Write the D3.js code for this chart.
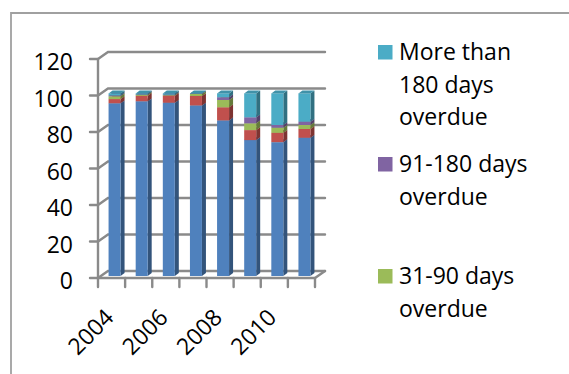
<!DOCTYPE html>
<html>
<head>
<meta charset="utf-8">
<script src="https://cdn.jsdelivr.net/npm/d3@7"></script>
<style>
  html, body { margin: 0; padding: 0; background: #fff; overflow: hidden; }
  text { font-family: "Open Sans", "Liberation Sans", sans-serif; fill: #000; }
</style>
</head>
<body>
<svg id="chart" width="569" height="374"></svg>
<script>
// Share of receivables by days overdue, percent of total
const years = [2004, 2005, 2006, 2007, 2008, 2009, 2010, 2011];
const seriesNames = ["Current", "1-30 days overdue", "31-90 days overdue", "91-180 days overdue", "More than 180 days overdue"];
const current   = [94.6, 95.7, 94.9, 93.4, 85.2, 74.4, 73.3, 75.7];
const days1_30  = [2.3, 3.0, 3.8, 5.2, 7.2, 5.5, 5.1, 4.8];
const days31_90 = [1.5, 0.5, 0.3, 1.1, 4.0, 3.7, 2.8, 2.2];
const days91_180 = [0.5, 0.2, 0.3, 0.1, 1.5, 3.3, 1.5, 1.8];
const over180   = [1.1, 0.6, 0.7, 0.2, 2.1, 13.1, 17.3, 15.5];
const seriesColors = ["#4F81BD", "#C0504D", "#9BBB59", "#8064A2", "#4BACC6"];

const yTicks = [0, 20, 40, 60, 80, 100, 120];
const xTickLabels = ["2004", "2006", "2008", "2010"];
// legend entries, top series first, wrapped as in the legend box
const legendLabels = [
  ["More than", "180 days", "overdue"],
  ["91-180 days", "overdue"],
  ["31-90 days", "overdue"]
];
const legendColors = ["#4BACC6", "#8064A2", "#9BBB59"];

const rows = years.map((yr, i) => ({
  year: yr,
  [seriesNames[0]]: current[i],
  [seriesNames[1]]: days1_30[i],
  [seriesNames[2]]: days31_90[i],
  [seriesNames[3]]: days91_180[i],
  [seriesNames[4]]: over180[i]
}));

const svg = d3.select("#chart");

// chart area border
svg.append("path")
  .attr("d", "M11,374 L11,13 L569,13")
  .attr("fill", "none").attr("stroke", "#a0a0a0").attr("stroke-width", 1.8);

// front plane scales
const x = d3.scaleBand().domain(years).range([98, 315]).padding(0);
const y = d3.scaleLinear().domain([0, 120]).range([278, 59]);
const bw = x.bandwidth();

// depth of the 3D box (offset of the back wall from the front plane)
const DX = 10, DY = -7;
const P = (px, py, t) => [px + DX * t, py + DY * t];

const grid = svg.append("g")
  .attr("stroke", "#8a8a8a").attr("stroke-width", 2.4).attr("fill", "none")
  .attr("stroke-linecap", "round");

const x0 = x.range()[0], x1 = x.range()[1];
const line = d3.line();

yTicks.forEach(v => {
  const yf = y(v);
  // tick, side wall step and back wall gridline
  grid.append("path").attr("d", line([[x0 - 8, yf], [x0, yf], P(x0, yf, 1), P(x1, yf, 1)]));
});
// value axis
grid.append("path").attr("d", line([[x0, y(0)], [x0, y(120)]]));
// floor front edge and right edge
grid.append("path").attr("d", line([[x0, y(0)], [x1, y(0)], P(x1, y(0), 1)]));
// category ticks at band boundaries
years.forEach(yr => {
  const bx = x(yr);
  grid.append("path").attr("d", line([[bx, y(0)], [bx, y(0) + 9]]));
});
grid.append("path").attr("d", line([[x1, y(0)], [x1, y(0) + 9]]));

// stacked 3D columns
const stack = d3.stack().keys(seriesNames)(rows);
const BW = 12, T0 = 0.3, T1 = 0.7;
const bars = svg.append("g");

years.forEach((yr, i) => {
  const left = x(yr) + (bw - BW) / 2;
  stack.forEach((layer, k) => {
    const [v0, v1] = layer[i];
    if (v1 - v0 <= 0) return;
    const c = d3.color(seriesColors[k]);
    const side = c.darker(1.2).formatHex();
    const top = c.darker(0.45).formatHex();
    const fa = P(left, y(v1), T0), fb = P(left + BW, y(v1), T0);
    const fc = P(left + BW, y(v0), T0), fd = P(left, y(v0), T0);
    const ba = P(left, y(v1), T1), bb = P(left + BW, y(v1), T1);
    const bc = P(left + BW, y(v0), T1);
    bars.append("path").attr("d", line([fb, bb, bc, fc]) + "Z").attr("fill", side);
    bars.append("path").attr("d", line([fa, fb, fc, fd]) + "Z").attr("fill", c.formatHex());
    bars.append("path").attr("d", line([fa, fb, bb, ba]) + "Z").attr("fill", top);
  });
});

// value labels
svg.append("g").selectAll("text").data(yTicks).join("text")
  .attr("x", 73).attr("y", d => y(d) + 2)
  .attr("text-anchor", "end").attr("dominant-baseline", "central")
  .attr("font-size", 23)
  .text(d => d);

// year labels, every other category
svg.append("g").selectAll("text").data(xTickLabels).join("text")
  .attr("transform", d => {
    const cx = x(+d) + bw / 2 + 3.5;
    return `translate(${cx},319) rotate(-45)`;
  })
  .attr("text-anchor", "end")
  .attr("font-size", 23)
  .text(d => d);

// legend
const legend = svg.append("g");
legendLabels.forEach((lines, i) => {
  const base = 60 + i * 112;
  legend.append("rect")
    .attr("x", 378).attr("y", base - 15).attr("width", 14.5).attr("height", 14.5)
    .attr("fill", legendColors[i]);
  const t = legend.append("text").attr("x", 399).attr("y", base).attr("font-size", 23);
  lines.forEach((s, j) => {
    t.append("tspan").attr("x", 399).attr("y", base + j * 32.5).text(s);
  });
});
</script>
</body>
</html>
